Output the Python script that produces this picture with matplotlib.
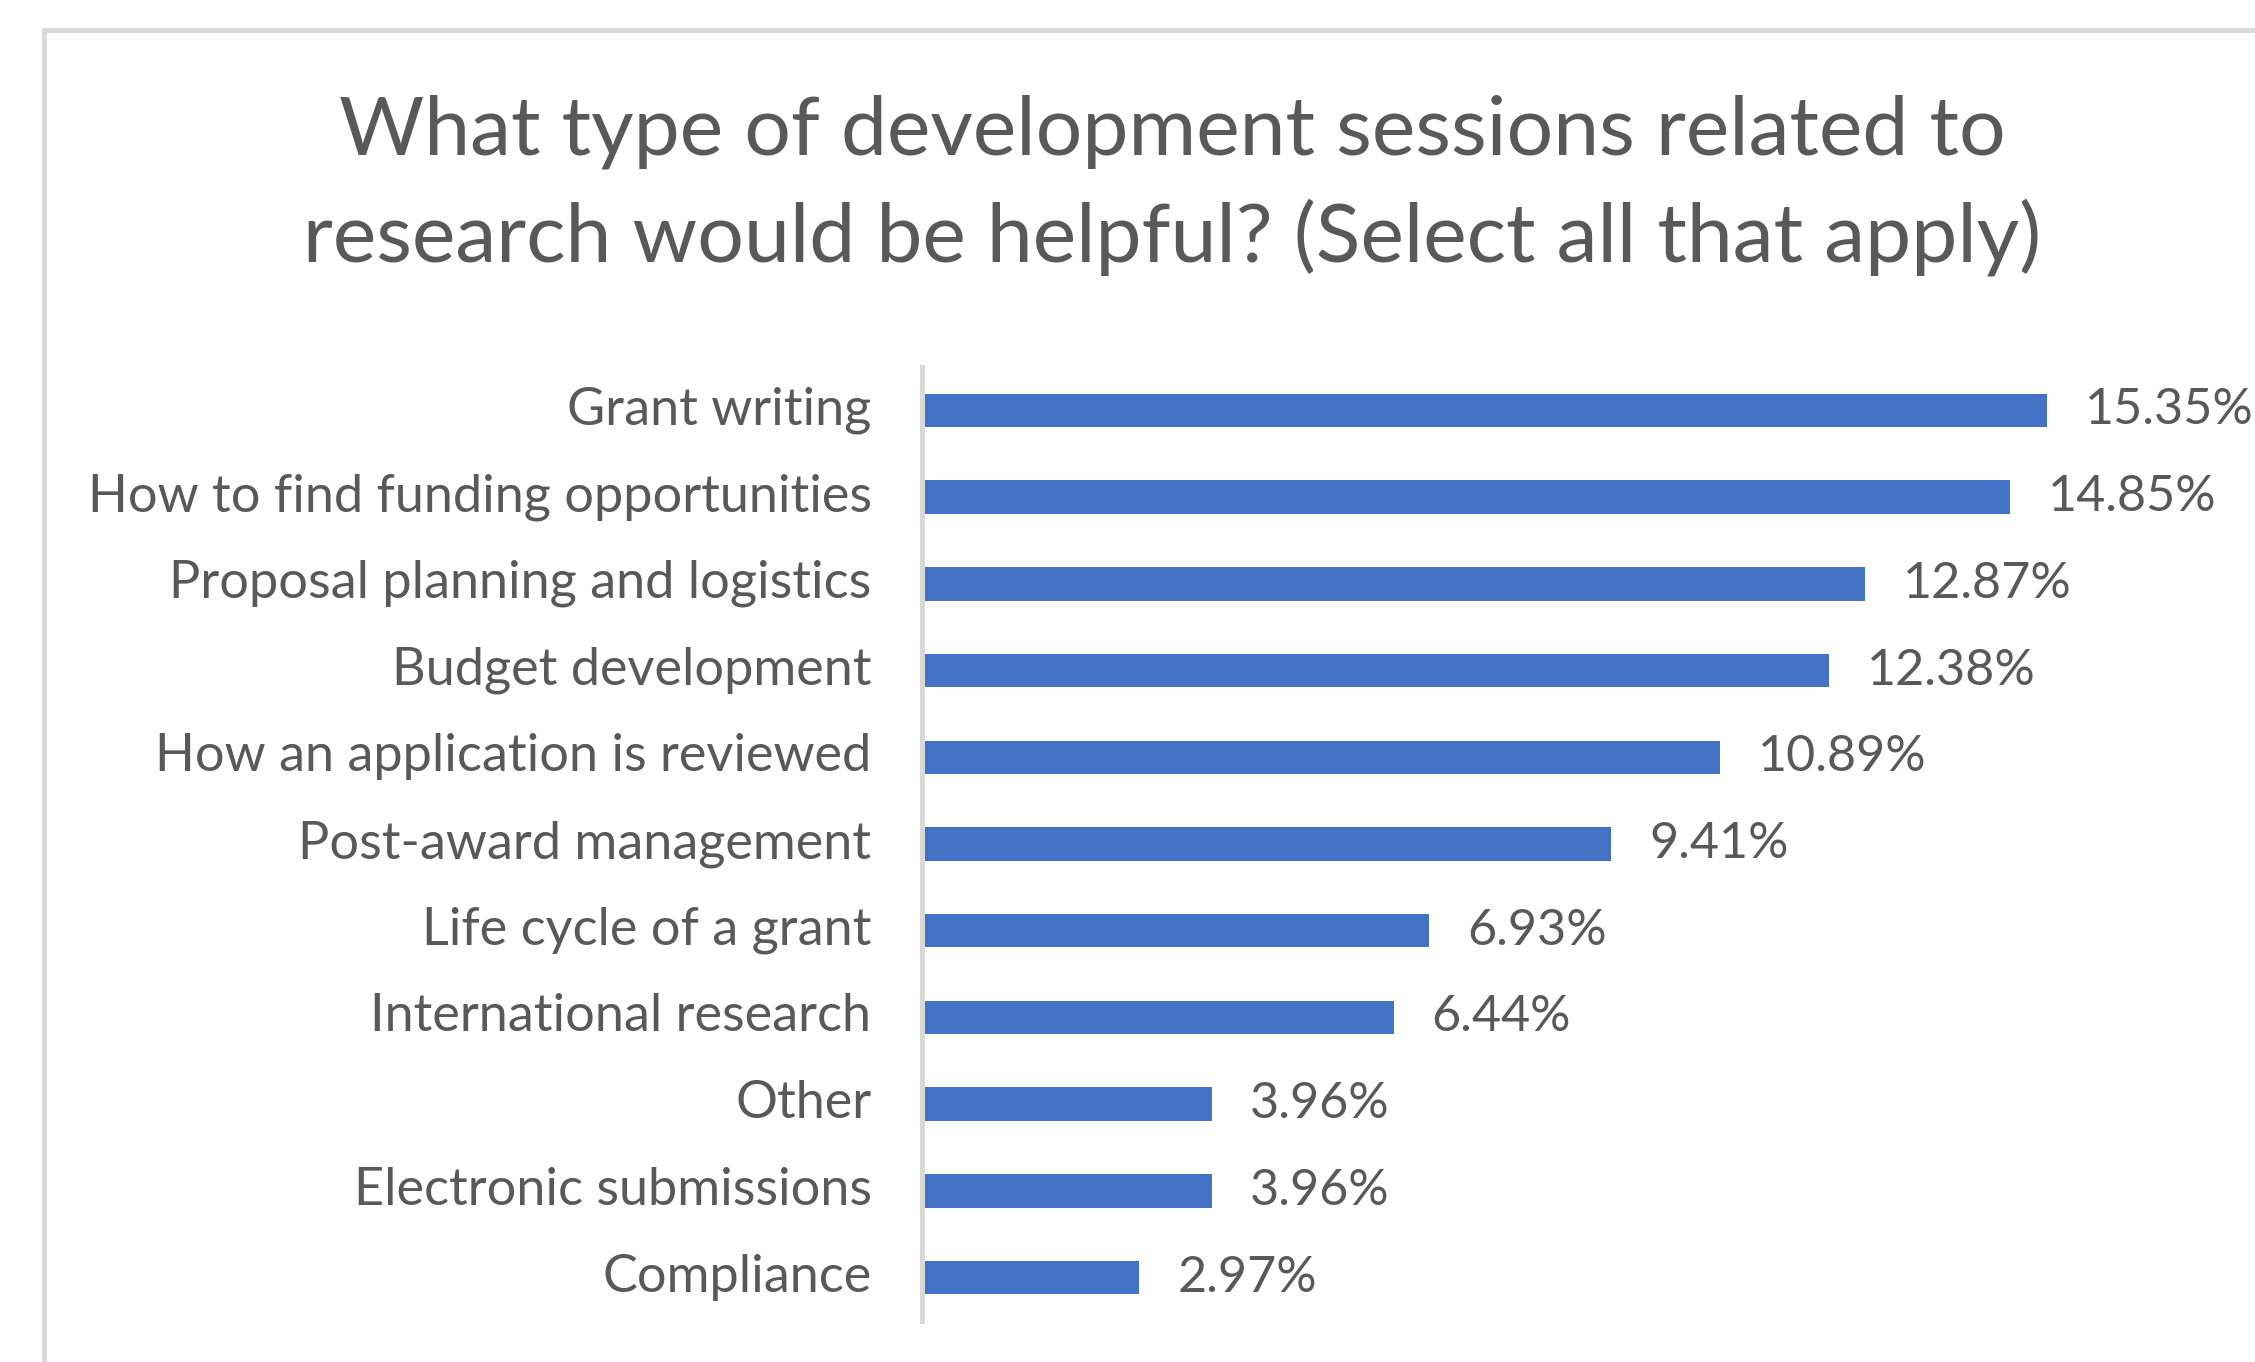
import matplotlib
matplotlib.use("Agg")
import matplotlib.pyplot as plt
from matplotlib.patches import Rectangle
from matplotlib.transforms import ScaledTranslation

categories = [
    "Grant writing",
    "How to find funding opportunities",
    "Proposal planning and logistics",
    "Budget development",
    "How an application is reviewed",
    "Post-award management",
    "Life cycle of a grant",
    "International research",
    "Other",
    "Electronic submissions",
    "Compliance",
]
values = [15.35, 14.85, 12.87, 12.38, 10.89, 9.41, 6.93, 6.44, 3.96, 3.96, 2.97]
title_lines = ["What type of development sessions related to",
               "research would be helpful? (Select all that apply)"]

W, H = 2255, 1362
DPI = 100
FONT = "Lato"
TEXT_C = "#595959"
BAR_C = "#4472C4"
GRID_C = "#D9D9D9"

plt.rcParams['font.family'] = [FONT, 'DejaVu Sans']
fig = plt.figure(figsize=(W / DPI, H / DPI), dpi=DPI)
fig.patch.set_facecolor("white")
renderer = fig.canvas.get_renderer()

def fit_size(text, target_px, base=40):
    t = fig.text(0, 0, text, fontsize=base)
    w = t.get_window_extent(renderer).width
    t.remove()
    return base * target_px / w

title_fs = fit_size(title_lines[1], 1740)
label_fs = fit_size(categories[1], 784)
value_fs = label_fs * 0.96

# outer chart border (runs off right and bottom edges)
fig.patches.append(Rectangle((43.5 / W, -0.1), 2.0, 1 - 29.5 / H + 0.1,
                             transform=fig.transFigure, fill=False,
                             edgecolor=GRID_C, linewidth=5 * 72 / DPI))

# title
fig.text(1172 / W, 1 - 132 / H, title_lines[0], ha="center", va="center",
         fontsize=title_fs, color=TEXT_C)
fig.text(1172 / W, 1 - 237 / H, title_lines[1], ha="center", va="center",
         fontsize=title_fs, color=TEXT_C)

# axes
x0 = 921.5
top, bot = 367, 1321
scale = 73.3
ax = fig.add_axes([x0 / W, (H - bot) / H, (W - x0) / W, (bot - top) / H])
ax.set_facecolor("none")
ypos = list(range(len(categories)))
ax.barh(ypos, values, height=0.385, color=BAR_C, zorder=2)
ax.set_ylim(len(categories) - 0.5, -0.5)
ax.set_xlim(0, (W - x0) / scale)
ax.set_yticks(ypos)
ax.tick_params(axis="y", length=0, pad=50 * 72 / DPI)
ax.set_yticklabels(categories, fontsize=label_fs, color=TEXT_C)
shift = ScaledTranslation(0, 5 / DPI, fig.dpi_scale_trans)
for lbl in ax.get_yticklabels():
    lbl.set_va("center_baseline")
    lbl.set_transform(lbl.get_transform() + shift)
ax.set_xticks([])
for s in ["top", "right", "bottom"]:
    ax.spines[s].set_visible(False)
ax.spines["left"].set_color(GRID_C)
ax.spines["left"].set_linewidth(5 * 72 / DPI)
ax.spines["left"].set_zorder(3)

for y, v in zip(ypos, values):
    ax.annotate(f"{v:.2f}%", (v, y), xytext=(38 * 72 / DPI, 0),
                textcoords="offset points", ha="left", va="center",
                fontsize=value_fs, color=TEXT_C, clip_on=False)

fig.savefig("out.png", dpi=DPI, facecolor="white")
